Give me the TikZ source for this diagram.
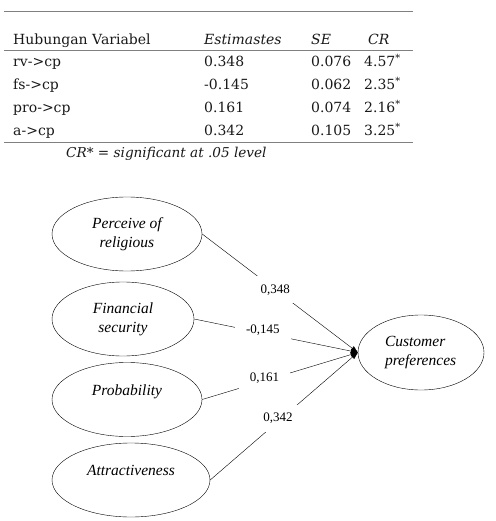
\documentclass[tikz,border=0pt]{standalone}
\usepackage{fontspec}
\setmainfont{Liberation Serif}
\newfontfamily\tabfont{DejaVu Serif}
\usetikzlibrary{shapes.geometric,arrows.meta}

\tikzset{
  latent/.style={draw, ellipse, thin, inner sep=0pt, minimum height=74pt,
    font=\fontsize{15.5}{19}\selectfont\itshape, align=center},
  coef/.style={fill=white, inner xsep=11pt, inner ysep=8pt,
    font=\fontsize{13}{15}\selectfont},
  effect/.style={thin, -{Triangle[length=7pt,width=5pt]}},
  cell/.style={anchor=base west, inner sep=0pt, text=black!90,
    font=\tabfont\fontsize{14}{16}\selectfont},
  rule/.style={black!50, line width=0.8pt}
}

\begin{document}
\begin{tikzpicture}[x=1pt, y=-1pt]
\useasboundingbox (0,0) rectangle (495,521);

% Table rules
\draw[rule] (4,11) -- (413,11);
\draw[rule] (4,50.5) -- (413,50.5);
\draw[rule, line width=1.2pt] (4,142.5) -- (413,142.5);

% Header
\node[cell] (hrel) at (13,45) {Hubungan Variabel};
\node[cell] (hest) at (204,45) {\itshape Estimastes};
\node[cell] (hse) at (311,45) {\itshape SE};
\node[cell] (hcr) at (368,45) {\itshape CR};

% Rows (relation, estimate, SE, CR)
\foreach \y/\rel/\est/\se/\cr [count=\i] in {
  67/rv->cp/0.348/0.076/4.57,
  90/fs->cp/-0.145/0.062/2.35,
  113/pro->cp/0.161/0.074/2.16,
  136/a->cp/0.342/0.105/3.25} {
  \node[cell] (rel\i) at (13,\y) {\rel};
  \node[cell] (est\i) at (204,\y) {\est};
  \node[cell] (se\i) at (311,\y) {\se};
  \node[cell] (cr\i) at (364,\y) {\cr\textsuperscript{*}};
}

% Note under table
\node[cell, font=\tabfont\itshape\fontsize{13.6}{16}\selectfont] (note) at (66,158)
  {CR* = significant at .05 level};

% Latent variables
\node[latent, minimum width=150pt] (rv) at (127,234) {Perceive of\\religious};
\node[latent, minimum width=142pt] (fs) at (123,319) {Financial\\security};
\node[latent, minimum width=150pt] (pro) at (127,399.5) {Probability\\~};
\node[latent, minimum width=158pt] (a) at (131,480) {Attractiveness\\~};
\node[latent, minimum width=126pt, minimum height=75pt, text width=72pt,
  align=left] (cp) at (421,352.5) {Customer\\preferences};

% Paths with estimates
\draw[effect] (rv.east) -- node[coef, pos=.47] (c1) {0,348} (cp.west);
\draw[effect] (fs.east) -- node[coef, pos=.42, yshift=3pt] (c2) {-0,145} (cp.west);
\draw[effect] (pro.east) -- node[coef, pos=.40, yshift=3pt] (c3) {0,161} (cp.west);
\draw[effect] (a.east) -- node[coef, pos=.46, yshift=3pt] (c4) {0,342} (cp.west);
\end{tikzpicture}
\end{document}
